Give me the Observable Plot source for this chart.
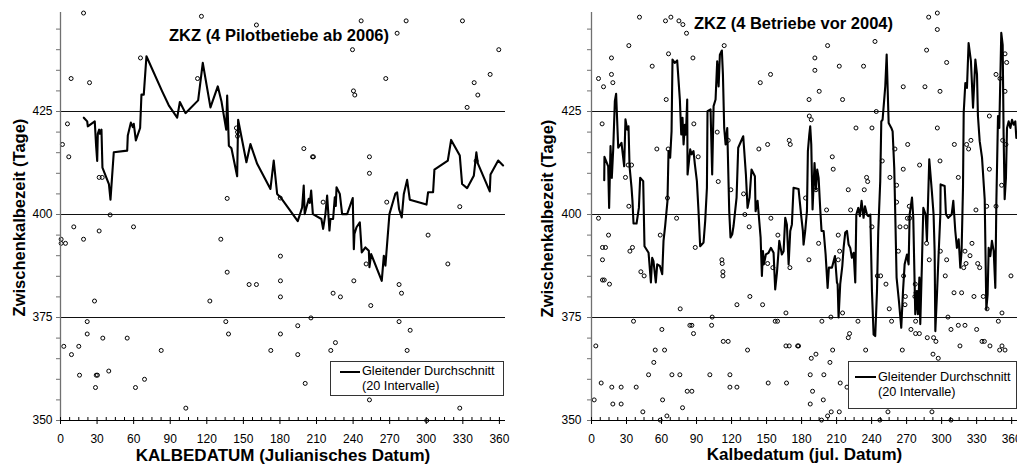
<!DOCTYPE html>
<html>
<head>
<meta charset="utf-8">
<script src="https://cdn.jsdelivr.net/npm/d3@7"></script>
<script src="https://cdn.jsdelivr.net/npm/@observablehq/plot@0.6"></script>
<style>
  body { margin: 0; background: #fff; font-family: Arial, "Liberation Sans", sans-serif; }
  #wrap { position: relative; width: 1017px; height: 466px; overflow: hidden; background: #fff; }
  .panel { position: absolute; top: 0; }
  .legend { position: absolute; box-sizing: border-box; border: 1px solid #333; background: #fff;
            font-size: 12.7px; line-height: 15px; color: #000; white-space: nowrap; }
  .legend .swatch { position: absolute; height: 2px; background: #000; }
  .legend .label { position: absolute; }
</style>
</head>
<body>
<div id="wrap"></div>
<script>
// Calving interval (ZKZ, days) against calving date (Julian day)

// --- 4 pilot farms from 2006: single calvings [day, days] ---
const pilotCalvings = [
  [18.9,448.9],[115.6,448.1],[160.7,446.0],[246.6,447.0],[283.5,447.0],[329.7,447.0],[276.1,444.0],
  [239.5,440.0],[359.5,440.0],[65.6,438.0],[8.7,433.0],[23.8,432.0],[112.4,433.0],[266.8,433.0],
  [352.4,434.0],[339.3,432.0],[240.3,430.0],[241.4,429.0],[342.3,429.0],[333.5,426.0],[5.7,422.0],
  [1.6,417.0],[6.8,414.0],[144.3,421.0],[145.2,420.0],[145.2,419.0],[199.6,416.0],[206.7,414.0],
  [207.5,414.0],[253.4,414.0],[253.4,410.0],[340.9,413.0],[31.7,409.0],[34.2,409.0],[136.7,403.9],
  [180.2,404.0],[215.4,403.0],[267.6,403.0],[327.5,401.9],[40.7,399.9],[10.9,397.0],[59.9,397.0],
  [31.7,396.0],[18.9,394.0],[0.5,394.0],[0.5,393.0],[4.1,393.0],[131.5,394.0],[301.5,395.0],
  [180.4,389.9],[250.7,388.0],[317.7,388.0],[136.7,386.0],[180.4,383.9],[240.6,383.9],[154.7,383.0],
  [160.7,383.0],[277.7,383.0],[223.6,380.9],[279.7,380.9],[229.6,380.0],[180.4,380.0],[27.9,379.0],
  [122.5,379.0],[254.5,377.9],[205.4,374.9],[21.9,374.0],[135.6,374.0],[194.6,373.0],[277.7,374.0],
  [21.9,371.0],[137.8,371.0],[180.4,371.0],[286.8,371.9],[2.7,368.0],[15.0,368.0],[34.7,370.0],
  [54.7,370.0],[225.5,368.9],[9.0,366.0],[82.6,367.0],[172.5,367.0],[221.7,367.0],[284.3,367.0],
  [194.6,366.0],[15.6,361.0],[29.3,361.0],[30.3,361.0],[39.6,362.0],[28.7,358.0],[61.5,358.0],
  [68.9,360.0],[200.7,359.0],[253.4,355.0],[102.8,353.0],[327.5,353.0],[300.4,350.0]
];

// moving average over 20 intervals, pilot farms
const pilotAverage = [
  [19.1,423.5],[21.9,422.6],[22.4,421.4],[28.1,422.6],[29.2,416.7],[30.1,413.0],[30.6,419.6],
  [31.7,420.6],[32.3,419.6],[33.6,420.6],[34.4,411.4],[39.7,407.4],[41.0,403.6],[43.7,415.1],
  [54.7,415.5],[55.2,419.2],[57.7,422.3],[59.3,421.2],[60.1,422.0],[61.8,418.0],[65.3,421.0],
  [66.4,429.1],[68.3,429.1],[70.5,438.4],[83.4,429.9],[88.8,426.5],[95.7,423.5],[97.9,427.3],
  [102.5,424.6],[112.9,427.7],[116.7,436.8],[123.0,426.0],[129.0,431.1],[132.0,427.5],[135.9,420.6],
  [136.7,428.9],[138.1,416.7],[140.2,416.1],[144.9,409.3],[145.7,423.0],[152.5,412.7],[155.8,417.1],
  [161.3,412.3],[172.2,406.2],[174.9,413.1],[177.7,405.0],[180.4,404.2],[194.6,398.4],[198.2,401.7],
  [199.5,407.0],[200.3,400.1],[203.6,403.8],[204.5,402.8],[205.6,405.8],[207.0,400.1],[214.0,398.9],
  [215.4,396.5],[217.3,400.1],[218.7,404.6],[220.6,396.1],[221.4,398.9],[223.6,398.9],[225.0,404.2],
  [225.8,402.1],[226.4,406.6],[229.1,405.0],[231.0,400.1],[235.1,400.1],[239.7,404.0],[240.6,391.6],
  [241.1,395.3],[242.8,396.9],[245.5,398.1],[247.1,390.8],[250.1,392.0],[252.9,391.2],[253.4,387.2],
  [254.8,390.4],[263.5,383.9],[265.2,390.0],[266.5,387.6],[269.8,400.1],[274.7,405.1],[276.1,405.4],
  [277.7,401.3],[279.9,399.3],[281.6,405.0],[284.3,408.4],[286.5,403.6],[300.2,402.4],[301.5,405.4],
  [305.6,405.4],[306.7,410.9],[317.7,413.1],[320.4,418.1],[327.5,414.3],[329.4,407.4],[333.5,406.4],
  [339.0,409.4],[341.1,415.1],[342.3,412.4],[352.1,405.6],[352.7,409.7],[359.0,413.1],[363.0,411.9]
];

// --- 4 farms before 2004: single calvings [day, days] ---
const earlierCalvings = [
  [41.1,447.9],[63.4,447.0],[68.0,447.9],[74.9,447.0],[78.3,446.1],[81.4,444.0],[296.3,448.9],
  [288.9,447.9],[296.3,444.9],[242.9,442.0],[32.0,441.0],[113.7,441.0],[202.3,441.0],[287.1,439.9],
  [17.1,438.0],[66.0,439.0],[86.9,438.0],[191.4,438.0],[304.3,436.9],[354.3,439.0],[355.7,436.9],
  [52.0,436.0],[212.3,436.0],[233.1,436.0],[191.4,435.0],[6.0,433.0],[17.1,434.0],[153.4,434.0],
  [346.6,434.0],[350.0,433.0],[18.3,432.0],[144.6,432.0],[10.3,431.0],[267.1,431.0],[285.7,431.0],
  [195.1,429.9],[298.6,429.9],[354.3,429.9],[64.0,427.9],[186.4,427.9],[215.1,427.9],[244.0,425.0],
  [186.6,423.9],[188.3,423.0],[340.9,423.9],[9.1,422.0],[87.7,422.0],[226.6,421.0],[240.3,421.0],
  [296.3,421.0],[107.7,420.0],[117.1,418.0],[169.4,418.0],[170.3,417.0],[270.9,417.0],[310.9,417.0],
  [321.4,417.0],[325.1,418.0],[352.3,418.0],[355.1,417.0],[56.0,415.9],[65.7,415.9],[143.4,415.9],
  [150.9,417.0],[260.0,415.9],[323.1,415.9],[206.3,414.0],[91.4,414.0],[31.4,412.0],[34.3,412.0],
  [207.1,411.0],[267.1,411.0],[281.1,412.0],[298.6,413.0],[249.1,413.0],[340.9,411.0],[29.1,409.0],
  [235.7,409.0],[255.7,409.0],[314.3,409.0],[108.6,408.0],[236.6,408.0],[261.4,407.1],[351.4,407.1],
  [119.4,406.0],[192.3,406.0],[220.0,406.0],[233.7,406.0],[130.3,405.0],[183.4,404.0],[65.1,404.0],
  [261.4,403.0],[329.4,401.1],[32.0,402.0],[201.4,401.1],[222.0,401.1],[131.4,400.0],[272.3,402.0],
  [338.6,402.0],[346.6,402.0],[6.0,399.1],[72.9,399.1],[153.7,399.1],[270.6,399.1],[272.6,399.1],
  [135.1,397.0],[240.3,397.0],[264.3,397.0],[269.4,397.0],[14.6,395.0],[58.9,395.0],[159.7,395.0],
  [211.4,395.0],[194.6,393.0],[287.1,393.0],[326.0,393.0],[9.4,392.0],[12.0,392.0],[35.1,392.0],
  [88.9,392.0],[32.9,391.1],[212.6,391.1],[262.9,391.1],[298.9,391.1],[320.0,391.1],[324.3,390.0],
  [9.4,389.0],[111.7,389.0],[112.0,388.1],[186.3,389.0],[211.4,389.0],[289.4,389.0],[304.3,389.0],
  [330.9,388.1],[320.9,388.1],[318.9,387.1],[332.6,387.1],[150.9,388.1],[155.4,387.1],[170.0,387.1],
  [112.6,386.1],[112.6,385.1],[42.3,386.1],[45.1,385.1],[244.9,385.1],[247.7,385.1],[303.1,385.1],
  [359.4,385.1],[9.4,384.1],[10.9,384.1],[267.4,385.1],[252.3,383.1],[15.4,383.1],[277.4,383.1],
  [135.7,380.1],[278.0,381.0],[268.9,380.1],[277.1,380.1],[310.6,381.0],[317.1,381.0],[327.7,380.1],
  [335.7,380.1],[268.6,378.1],[146.6,378.1],[124.6,378.1],[76.0,377.1],[255.1,377.1],[338.9,377.1],
  [215.1,376.1],[351.7,376.1],[103.4,375.1],[205.1,375.1],[305.4,375.1],[36.0,374.1],[102.9,373.1],
  [157.4,374.1],[159.4,374.1],[166.6,376.1],[197.4,374.1],[228.3,374.1],[257.1,374.1],[277.7,374.1],
  [348.6,374.1],[84.3,373.1],[86.0,373.1],[314.3,373.1],[320.0,373.1],[60.3,372.1],[308.0,372.1],
  [330.0,372.1],[273.7,372.1],[221.1,371.1],[277.7,371.1],[280.9,371.1],[87.4,371.1],[220.0,370.1],
  [287.7,370.1],[293.1,370.1],[295.1,369.2],[112.9,369.2],[117.1,369.2],[334.6,369.2],[336.6,369.2],
  [3.7,368.1],[166.6,368.1],[169.4,368.1],[177.4,368.1],[176.6,368.1],[315.7,368.1],[341.4,368.1],
  [351.7,368.1],[349.7,367.1],[354.3,367.1],[54.6,367.1],[62.6,367.1],[133.7,367.1],[206.6,367.1],
  [234.9,367.1],[266.3,367.1],[192.3,366.1],[292.6,366.1],[188.3,365.1],[297.1,365.1],[53.4,364.1],
  [204.3,364.1],[48.9,361.1],[68.9,361.1],[75.7,361.1],[101.4,361.1],[118.6,361.1],[187.4,361.1],
  [199.1,361.1],[8.3,359.1],[151.4,359.1],[167.1,359.1],[213.1,359.1],[218.9,358.1],[17.4,358.1],
  [25.4,358.1],[38.3,358.1],[118.6,358.1],[124.6,358.1],[189.4,357.1],[82.0,357.1],[86.0,357.1],
  [2.3,355.0],[60.9,355.0],[198.6,355.0],[18.3,354.0],[25.4,354.0],[187.4,354.0],[78.0,353.1],
  [44.0,352.1],[205.4,352.1],[212.3,352.1],[254.0,352.1],[291.7,352.1],[64.6,351.1],[202.3,351.1],
  [58.9,350.1],[197.1,350.1],[247.1,350.1],[308.0,350.1]
];

// moving average over 20 intervals, farms before 2004
const earlierAverage = [
  [10.9,408.3],[11.1,414.0],[14.3,411.7],[15.1,401.6],[16.3,416.6],[17.4,408.9],[18.6,415.8],
  [20.0,427.5],[21.1,429.3],[22.9,416.2],[25.7,417.4],[28.0,411.7],[29.1,423.1],[30.6,420.6],
  [31.7,421.4],[32.6,411.7],[34.3,406.5],[35.1,403.3],[36.0,397.8],[38.6,397.8],[40.6,401.6],
  [41.7,408.9],[44.3,408.1],[45.4,392.3],[48.9,390.7],[50.9,383.5],[52.0,389.5],[53.1,388.7],
  [55.1,383.5],[56.3,387.9],[58.6,387.5],[60.6,385.5],[61.7,393.6],[63.1,397.2],[65.1,403.3],
  [66.0,415.4],[67.4,413.8],[68.6,420.2],[69.4,437.6],[71.4,436.8],[73.4,437.4],[75.7,427.9],
  [76.9,419.4],[78.0,423.5],[78.9,417.0],[80.0,421.8],[80.9,419.4],[82.0,427.9],[82.3,409.7],
  [84.6,415.8],[85.7,414.6],[87.4,415.4],[88.6,412.1],[90.3,408.1],[91.7,400.8],[93.1,392.3],
  [96.0,393.2],[97.4,398.4],[98.9,406.5],[99.4,425.1],[102.0,425.5],[103.4,409.7],[104.6,426.3],
  [106.3,427.9],[107.7,437.2],[108.9,431.1],[110.0,438.8],[111.7,439.8],[112.6,434.0],[113.7,421.0],
  [114.9,417.0],[116.3,421.0],[118.0,400.8],[119.1,394.4],[120.6,395.2],[121.7,397.2],[124.3,404.1],
  [125.7,416.2],[130.0,419.0],[132.3,409.7],[133.7,401.6],[135.4,404.1],[137.1,410.9],[140.0,409.3],
  [140.6,400.8],[142.3,403.3],[144.9,394.4],[146.0,385.1],[146.9,391.1],[147.7,387.9],[149.4,390.3],
  [151.7,390.7],[153.7,391.9],[156.0,390.7],[157.4,381.8],[158.9,385.9],[160.9,393.6],[163.1,390.3],
  [164.6,391.1],[166.0,399.2],[167.4,397.6],[168.9,387.9],[170.3,396.0],[171.7,397.6],[173.1,406.5],
  [177.4,406.2],[179.7,399.6],[181.1,396.0],[181.7,392.7],[183.1,396.0],[184.6,400.8],[185.4,415.4],
  [186.6,419.4],[187.4,421.4],[188.3,417.0],[189.4,401.2],[191.1,412.5],[192.3,406.1],[193.4,410.9],
  [194.6,408.9],[196.0,401.2],[197.1,396.0],[198.9,396.0],[200.6,390.3],[202.3,382.2],[203.4,387.1],
  [206.0,387.1],[208.6,389.9],[210.3,383.5],[210.9,383.1],[211.7,375.0],[213.1,383.1],[214.9,387.5],
  [216.0,391.9],[217.4,395.6],[218.9,396.0],[220.3,392.7],[221.7,391.9],[223.1,389.5],[224.6,390.7],
  [226.0,383.5],[226.9,400.0],[228.6,401.6],[230.0,399.6],[231.4,403.3],[233.1,399.2],[234.3,402.0],
  [236.0,400.0],[237.1,399.6],[238.9,400.0],[240.3,381.4],[241.7,370.9],[243.1,370.5],[244.6,381.4],
  [245.7,396.0],[247.4,408.1],[248.3,422.6],[249.4,423.0],[251.7,431.1],[252.9,438.8],[254.6,422.2],
  [256.9,421.0],[258.0,420.2],[259.4,411.3],[260.3,399.6],[261.4,384.7],[263.4,379.0],[265.4,372.5],
  [266.9,381.4],[268.3,387.9],[270.3,390.3],[271.7,387.9],[272.6,400.0],[274.6,404.1],[275.7,399.2],
  [277.4,375.8],[278.9,381.4],[279.7,375.8],[280.9,384.7],[281.7,373.4],[283.1,387.9],[284.3,401.6],
  [286.3,400.0],[287.4,393.6],[289.4,413.4],[291.7,405.3],[293.1,400.0],[294.0,391.1],[294.6,371.7],
  [296.0,380.6],[297.4,390.3],[298.9,400.0],[299.1,407.3],[302.6,406.9],[303.7,400.0],[305.7,399.2],
  [308.6,400.0],[310.0,403.3],[311.7,396.0],[313.1,391.9],[314.6,394.0],[316.0,387.1],[317.1,391.1],
  [318.3,406.5],[318.9,424.7],[320.3,431.9],[321.7,430.7],[323.1,441.6],[325.1,437.2],[326.9,425.9],
  [328.9,437.6],[330.3,434.0],[331.1,423.9],[332.6,417.8],[334.6,413.8],[336.9,403.7],[338.3,377.0],
  [339.4,380.6],[340.3,391.9],[341.7,389.9],[343.1,393.6],[344.6,391.1],[346.0,382.2],[346.9,403.3],
  [348.3,423.9],[349.4,421.0],[351.1,444.1],[352.3,441.2],[353.1,419.4],[354.0,403.7],[355.1,408.9],
  [356.0,421.0],[357.4,422.6],[358.9,421.0],[360.3,423.0],[361.7,421.8],[363.1,422.6],[364.0,418.6]
];

// axis ticks and reference lines
const gridLines = [375, 400, 425];
const yLabelTicks = [350, 375, 400, 425];
const yMinorTicks = [350,355,360,365,370,375,380,385,390,395,400,405,410,415,420,425,430,435,440,445];
const xLabelTicks = [0, 30, 60, 90, 120, 150, 180, 210, 240, 270, 300, 330, 360];
const xMinorTicks = d3.range(0, 365, 7.5);

const yTitle = "Zwischenkalbezeit (Tage)";
const legendLines = ["Gleitender Durchschnitt", "(20 Intervalle)"];

const FONT = "Arial, 'Liberation Sans', sans-serif";

function panel(cfg) {
  return Plot.plot({
    width: cfg.width,
    height: 466,
    marginLeft: cfg.marginLeft,
    marginRight: cfg.marginRight,
    marginTop: 8,
    marginBottom: 46,
    x: {domain: [0, 365]},
    y: {domain: [350, 450]},
    style: {fontFamily: FONT, fontSize: "12px", color: "#000", background: "transparent", overflow: "visible"},
    marks: [
      Plot.ruleY(gridLines, {stroke: "#111", strokeWidth: 1}),
      Plot.dot(cfg.points, {x: d => d[0], y: d => d[1], r: 2, stroke: "#000", strokeWidth: 1, fill: "none"}),
      Plot.line(cfg.average, {x: d => d[0], y: d => d[1], stroke: "#000", strokeWidth: 2.1}),
      // axis lines
      Plot.ruleX([0], {y1: 350, y2: 449, stroke: "#707070", strokeWidth: 1.3}),
      Plot.ruleY([350], {stroke: "#000", strokeWidth: 1}),
      // y ticks
      Plot.axisY({ticks: yMinorTicks, tickSize: 4, tickFormat: () => "", label: null, stroke: "#707070"}),
      Plot.axisY({ticks: yLabelTicks, tickSize: 0, tickPadding: cfg.yPad, label: null, fontSize: 12}),
      // x ticks: small marks on the baseline, labelled every 30 days
      Plot.ruleX(xMinorTicks, {x: d => d, y1: 350, y2: 350, insetTop: -3, insetBottom: 0, stroke: "#000"}),
      Plot.axisX({ticks: xLabelTicks, tickSize: 4, tickPadding: 10, label: null, fontSize: 12}),
      // titles
      Plot.text([cfg.title], {text: d => d, frameAnchor: "top", lineAnchor: "middle", textAnchor: "middle",
        dx: cfg.titleDx, dy: cfg.titleDy, fontWeight: "bold", fontSize: 16.5}),
      Plot.text([cfg.xTitle], {text: d => d, frameAnchor: "bottom", lineAnchor: "middle", textAnchor: "middle",
        dy: cfg.xTitleDy, fontWeight: "bold", fontSize: 17}),
      Plot.text([yTitle], {text: d => d, frameAnchor: "left", lineAnchor: "middle", textAnchor: "middle",
        rotate: -90, dx: cfg.yTitleDx, dy: cfg.yTitleDy, fontWeight: "bold", fontSize: 16.5})
    ]
  });
}

function legend(box) {
  const el = document.createElement("div");
  el.className = "legend";
  Object.assign(el.style, {left: box.left + "px", top: box.top + "px", width: box.width + "px", height: box.height + "px"});
  const sw = document.createElement("div");
  sw.className = "swatch";
  Object.assign(sw.style, {left: box.swLeft + "px", top: box.swTop + "px", width: box.swWidth + "px"});
  const lb = document.createElement("div");
  lb.className = "label";
  Object.assign(lb.style, {left: box.textLeft + "px", top: box.textTop + "px"});
  lb.innerHTML = legendLines.join("<br>");
  el.append(sw, lb);
  return el;
}

const wrap = document.getElementById("wrap");

const left = panel({
  width: 510, marginLeft: 60, marginRight: 5, yPad: 8,
  points: pilotCalvings, average: pilotAverage,
  title: "ZKZ (4 Pilotbetiebe ab 2006)", titleDx: -4, titleDy: 27,
  xTitle: "KALBEDATUM (Julianisches Datum)", xTitleDy: 35,
  yTitleDx: -41, yTitleDy: 3
});
left.classList.add("panel");
left.style.left = "0px";

const right = panel({
  width: 507, marginLeft: 81, marginRight: 0, yPad: 10,
  points: earlierCalvings, average: earlierAverage,
  title: "ZKZ (4 Betriebe vor 2004)", titleDx: -11, titleDy: 15,
  xTitle: "Kalbedatum (jul. Datum)", xTitleDy: 34,
  yTitleDx: -44, yTitleDy: 4
});
right.classList.add("panel");
right.style.left = "510px";

wrap.append(left, right);
wrap.append(legend({left: 330, top: 361, width: 174, height: 35, swLeft: 9, swTop: 9, swWidth: 20, textLeft: 31, textTop: 2}));
wrap.append(legend({left: 848, top: 361, width: 169, height: 48, swLeft: 6, swTop: 14, swWidth: 21, textLeft: 29, textTop: 8}));
</script>
</body>
</html>
